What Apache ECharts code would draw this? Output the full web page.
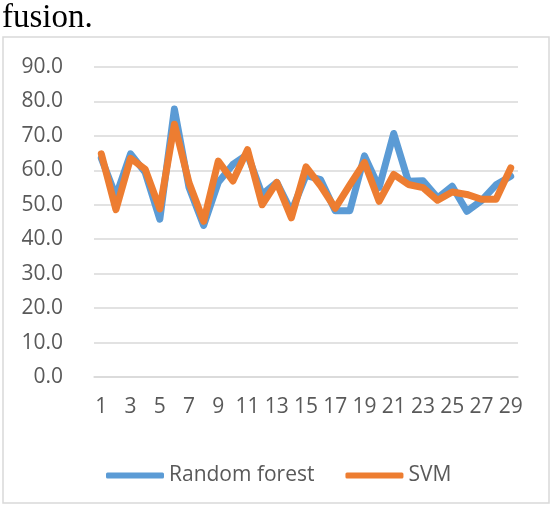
<!DOCTYPE html>
<html lang="en">
<head>
    <meta charset="utf-8">
    <script src="https://cdn.jsdelivr.net/npm/echarts@6/dist/echarts.min.js"></script>
    <style>
        html, body { margin: 0; padding: 0; background: #fff; }
    </style>
</head>
<body>
<div id="chart" style="width: 552px;height:506px;"></div>
<script type="text/javascript">
    // data
    var categories = [];
    for (var i = 1; i <= 29; i++) categories.push(String(i));
    var seriesNames = ['Random forest', 'SVM'];
    var randomForest = [63.5, 52.5, 64.8, 59.4, 45.8, 77.8, 55.0, 44.0, 56.5, 61.7,
        64.6, 53.0, 56.5, 48.0, 58.5, 57.3, 48.3, 48.3, 64.2, 55.0,
        70.7, 56.8, 57.0, 52.0, 55.4, 48.1, 51.2, 55.8, 58.3];
    var svm = [64.8, 48.6, 63.5, 60.3, 48.8, 73.4, 56.4, 45.2, 62.7, 56.9,
        66.0, 50.0, 56.5, 46.2, 61.0, 55.5, 49.0, 55.8, 62.3, 51.0,
        58.8, 55.9, 55.0, 51.3, 53.7, 53.0, 51.6, 51.6, 60.7];
    var yMin = 0, yMax = 90, yStep = 10;

    var chart = echarts.init(document.getElementById('chart'));
    var labelFont = '"Open Sans", "Liberation Sans", sans-serif';

    var option = {
        animation: false,
        color: ['#5b9bd5', '#ed7d31'],
        graphic: [
            {
                type: 'text',
                left: 2,
                top: 2,
                style: {
                    text: 'fusion.',
                    font: '33px "Liberation Serif", "Times New Roman", serif',
                    fill: '#000'
                }
            },
            {
                type: 'rect',
                shape: {x: 3, y: 37, width: 546, height: 466},
                style: {fill: 'none', stroke: '#d9d9d9', lineWidth: 1.5},
                silent: true
            }
        ],
        grid: {left: 94, right: 34, top: 67, bottom: 129},
        legend: {
            data: seriesNames,
            left: 101,
            top: 460,
            icon: 'roundRect',
            itemWidth: 58,
            itemHeight: 6,
            itemGap: 31,
            textStyle: {color: '#595959', fontSize: 21, fontFamily: labelFont}
        },
        xAxis: {
            type: 'category',
            data: categories,
            boundaryGap: true,
            axisLine: {lineStyle: {color: '#d9d9d9', width: 1.5}},
            axisTick: {show: false},
            axisLabel: {
                interval: 1,
                margin: 20,
                color: '#595959',
                fontSize: 21,
                fontFamily: labelFont
            }
        },
        yAxis: {
            type: 'value',
            min: yMin,
            max: yMax,
            interval: yStep,
            axisLine: {show: false},
            axisTick: {show: false},
            splitLine: {lineStyle: {color: '#d9d9d9', width: 1.5}},
            axisLabel: {
                margin: 31,
                color: '#595959',
                fontSize: 21,
                fontFamily: labelFont,
                formatter: function (v) { return v.toFixed(1); }
            }
        },
        series: [
            {
                name: seriesNames[0],
                type: 'line',
                data: randomForest,
                symbol: 'none',
                lineStyle: {width: 7, cap: 'round', join: 'round'}
            },
            {
                name: seriesNames[1],
                type: 'line',
                data: svm,
                symbol: 'none',
                lineStyle: {width: 7, cap: 'round', join: 'round'}
            }
        ]
    };
    chart.setOption(option);
</script>
</body>
</html>
